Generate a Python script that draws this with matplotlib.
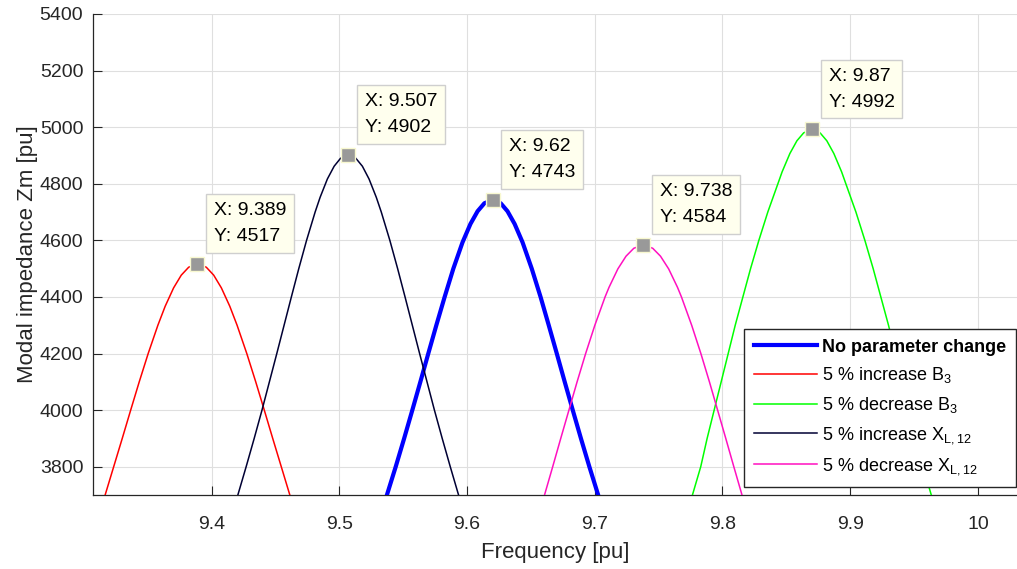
import matplotlib
matplotlib.use("Agg")
import matplotlib.pyplot as plt

plt.rcParams['font.family'] = ['Liberation Sans', 'DejaVu Sans']
plt.rcParams['mathtext.fontset'] = 'custom'
plt.rcParams['mathtext.rm'] = 'Liberation Sans'

# ---------------- data ----------------
labels = ['No parameter change', r'5 % increase B$_\mathregular{3}$',
          r'5 % decrease B$_\mathregular{3}$', r'5 % increase X$_\mathregular{L,12}$',
          r'5 % decrease X$_\mathregular{L,12}$']

x_base = [9.5373, 9.5442, 9.5508, 9.5572, 9.5635, 9.5697, 9.5760, 9.5825, 9.5893, 9.5965,
          9.6027, 9.6083, 9.6136, 9.62,
          9.6264, 9.6317, 9.6373, 9.6435, 9.6507, 9.6576, 9.6640, 9.6703, 9.6765, 9.6828,
          9.6892, 9.6958, 9.7027]
y_base = [3700, 3800, 3900, 4000, 4100, 4200, 4300, 4400, 4500, 4593, 4658, 4703, 4731, 4743,
          4731, 4703, 4658, 4593, 4500, 4400, 4300, 4200, 4100, 4000, 3900, 3800, 3700]

x_incB = [9.3167, 9.3234, 9.3301, 9.3367, 9.3434, 9.3504, 9.3580, 9.3637, 9.3703, 9.3763,
          9.3821, 9.389,
          9.3959, 9.4017, 9.4077, 9.4143, 9.4200, 9.4276, 9.4346, 9.4413, 9.4479, 9.4546, 9.4613]
y_incB = [3700, 3800, 3900, 4000, 4100, 4200, 4300, 4367, 4432, 4477, 4505, 4517,
          4505, 4477, 4432, 4367, 4300, 4200, 4100, 4000, 3900, 3800, 3700]

x_decB = [9.7765, 9.7830, 9.7880, 9.7935, 9.7990, 9.8045, 9.8100, 9.8160, 9.8220, 9.8285,
          9.8355, 9.8434, 9.8467, 9.8528, 9.8583, 9.8636, 9.87,
          9.8764, 9.8817, 9.8872, 9.8933, 9.8966, 9.9045, 9.9115, 9.9180, 9.9240, 9.9300,
          9.9355, 9.9410, 9.9465, 9.9520, 9.9570, 9.9635]
y_decB = [3700, 3800, 3900, 4000, 4100, 4200, 4300, 4400, 4500, 4600, 4700, 4800, 4842, 4907,
          4952, 4980, 4992,
          4980, 4952, 4907, 4842, 4800, 4700, 4600, 4500, 4400, 4300, 4200, 4100, 4000, 3900,
          3800, 3700]

x_incX = [9.4206, 9.4271, 9.4334, 9.4395, 9.4453, 9.4511, 9.4568, 9.4625, 9.4683, 9.4744,
          9.4811, 9.4850, 9.4907, 9.4960, 9.5010, 9.507,
          9.5130, 9.5181, 9.5233, 9.5290, 9.5329, 9.5396, 9.5457, 9.5515, 9.5572, 9.5629,
          9.5687, 9.5745, 9.5806, 9.5869, 9.5934]
y_incX = [3700, 3800, 3900, 4000, 4100, 4200, 4300, 4400, 4500, 4600, 4700, 4752, 4817, 4862,
          4890, 4902,
          4890, 4862, 4817, 4752, 4700, 4600, 4500, 4400, 4300, 4200, 4100, 4000, 3900, 3800,
          3700]

x_decX = [9.6607, 9.6671, 9.6734, 9.6798, 9.6862, 9.6929, 9.7001, 9.7081, 9.7112, 9.7181,
          9.7245, 9.7306, 9.738,
          9.7454, 9.7515, 9.7579, 9.7648, 9.7679, 9.7759, 9.7831, 9.7898, 9.7962, 9.8026,
          9.8089, 9.8153]
y_decX = [3700, 3800, 3900, 4000, 4100, 4200, 4300, 4400, 4434, 4499, 4544, 4572, 4584,
          4572, 4544, 4499, 4434, 4400, 4300, 4200, 4100, 4000, 3900, 3800, 3700]

tip_x = [9.389, 9.507, 9.62, 9.738, 9.87]
tip_y = [4517, 4902, 4743, 4584, 4992]

x_ticks = [9.4, 9.5, 9.6, 9.7, 9.8, 9.9, 10.0]
x_tick_labels = ['9.4', '9.5', '9.6', '9.7', '9.8', '9.9', '10']
y_ticks = [3800, 4000, 4200, 4400, 4600, 4800, 5000, 5200, 5400]

# ---------------- figure ----------------
W, H = 1017, 569
fig = plt.figure(figsize=(W / 100, H / 100), dpi=100)
ax = fig.add_axes([93 / W, 74 / H, 924 / W, 481 / H])

tc = '#262626'
series = [
    (x_base, y_base, '#0000ff', 3.0),
    (x_incB, y_incB, '#ff0000', 1.1),
    (x_decB, y_decB, '#00ff00', 1.1),
    (x_incX, y_incX, '#000033', 1.1),
    (x_decX, y_decX, '#ff10c0', 1.1),
]
handles = []
for (xs, ys, c, lw), lab in zip(series, labels):
    h, = ax.plot(xs, ys, color=c, lw=lw, label=lab, zorder=3)
    handles.append(h)

ax.set_xlim(9.3072, 10.0306)
ax.set_ylim(3700, 5400)
ax.set_xticks(x_ticks)
ax.set_xticklabels(x_tick_labels)
ax.set_yticks(y_ticks)
ax.grid(True, color='#dfdfdf', lw=0.8, zorder=0)
ax.set_axisbelow(True)

for s in ['top', 'right']:
    ax.spines[s].set_visible(False)
for s in ['left', 'bottom']:
    ax.spines[s].set_color(tc)
    ax.spines[s].set_linewidth(0.9)
ax.tick_params(axis='both', direction='in', length=6.7, width=0.8, color=tc,
               labelcolor=tc, labelsize=14)
ax.tick_params(axis='x', pad=15)
ax.tick_params(axis='y', pad=7)

ax.set_xlabel('Frequency [pu]', fontsize=16, color=tc, va='center')
ax.xaxis.set_label_coords(0.5, -0.1195)
ax.set_ylabel('Modal impedance Zm [pu]', fontsize=16, color=tc, va='center')
ax.yaxis.set_label_coords(-0.071, 0.5)

# data tips
ax.plot(tip_x, tip_y, 's', ms=9.5, mfc='#999999', mec='#f8f8d0', mew=1.0, zorder=5,
        clip_on=False)
for tx, ty in zip(tip_x, tip_y):
    ax.annotate('X: %g\nY: %g' % (tx, ty), xy=(tx, ty), xytext=(12.0, 13.5),
                textcoords='offset points', ha='left', va='bottom', fontsize=14,
                linespacing=1.7, color='black', zorder=6, annotation_clip=False,
                bbox=dict(boxstyle='square,pad=0.4', fc='#ffffee', ec='#cfcfcf', lw=1.0))

leg = ax.legend(handles=handles, loc='lower right', bbox_to_anchor=(0.9989, 0.0166),
                bbox_transform=ax.transAxes, borderaxespad=0, fontsize=13,
                handlelength=3.45, handletextpad=0.3, borderpad=0.55, labelspacing=0.55,
                fancybox=False, framealpha=1, edgecolor=tc)
leg.get_frame().set_linewidth(1.0)
leg.set_zorder(10)
t0 = leg.get_texts()[0]
t0.set_fontweight('bold')

fig.savefig('out.png', dpi=100)
